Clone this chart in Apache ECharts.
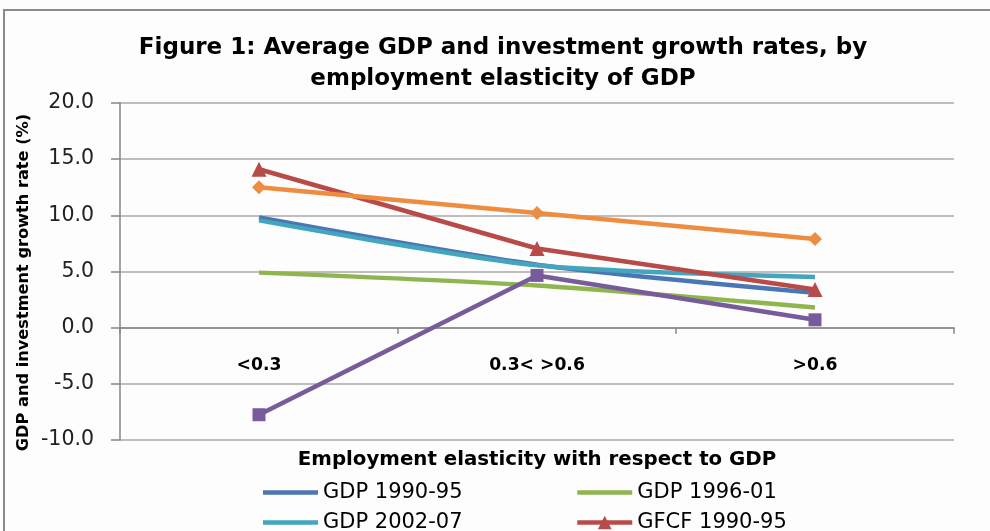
<!DOCTYPE html>
<html>
<head>
<meta charset="utf-8">
<script src="https://cdn.jsdelivr.net/npm/echarts@6/dist/echarts.min.js"></script>
<style>
html,body{margin:0;padding:0;background:#fdfdfd;}
#chart{width:990px;height:531px;}
</style>
</head>
<body>
<div id="chart"></div>
<script>
const categories = ['<0.3', '0.3< >0.6', '>0.6'];
const gdp9095 = [9.8, 5.6, 3.1];
const gdp9601 = [4.9, 3.75, 1.8];
const gdp0207 = [9.55, 5.55, 4.5];
const gfcf9095 = [14.1, 7.05, 3.4];
const gfcf9601 = [12.5, 10.2, 7.9];
const gfcf0207 = [-7.75, 4.65, 0.7];
const yTicks = [-10, -5, 0, 5, 10, 15, 20];

const FONT = 'DejaVu Sans';
const LINE_ICON = 'path://M0,0L60,0L60,5L0,5Z';
const GRID = {left: 120, right: 36, top: 103, bottom: 91};
const chart = echarts.init(document.getElementById('chart'), null, {renderer: 'canvas'});

// distance from the bottom of the plot to the zero line (x axis crosses at 0)
const plotH = 531 - GRID.top - GRID.bottom;
const yMin = yTicks[0], yMax = yTicks[yTicks.length - 1];
const zeroOffset = plotH * (0 - yMin) / (yMax - yMin);

function lineSeries(name, data, color, symbol, symbolSize, smooth) {
  return {
    name: name,
    type: 'line',
    data: data,
    smooth: smooth,
    symbol: symbol,
    symbolSize: symbolSize,
    showSymbol: symbol !== 'none',
    lineStyle: {color: color, width: 4.5},
    itemStyle: {color: color},
    emphasis: {disabled: true},
    z: 3
  };
}

const legendCommon = {
  orient: 'vertical',
  top: 482,
  height: 120,
  padding: 0,
  itemWidth: 55,
  itemHeight: 17,
  itemGap: 9,
  selectedMode: false,
  lineStyle: {width: 'inherit'},
  textStyle: {fontFamily: FONT, fontSize: 21, lineHeight: 17, color: '#000'}
};

chart.setOption({
  backgroundColor: '#fdfdfd',
  animation: false,
  textStyle: {fontFamily: FONT},
  graphic: [{
    type: 'rect',
    shape: {x: 4, y: 10, width: 1100, height: 700},
    style: {fill: 'none', stroke: '#8a8a8a', lineWidth: 2},
    silent: true
  }],
  title: {
    text: 'Figure 1: Average GDP and investment growth rates, by\nemployment elasticity of GDP',
    left: 503,
    textAlign: 'center',
    top: 33,
    padding: 0,
    textStyle: {fontFamily: FONT, fontWeight: 'bold', fontSize: 23, lineHeight: 31, color: '#000'}
  },
  legend: [
    Object.assign({}, legendCommon, {
      left: 263,
      data: [{name: 'GDP 1990-95', icon: LINE_ICON}, {name: 'GDP 2002-07', icon: LINE_ICON}]
    }),
    Object.assign({}, legendCommon, {
      left: 575,
      data: [{name: 'GDP 1996-01', icon: LINE_ICON}, {name: 'GFCF 1990-95'}]
    })
  ],
  grid: Object.assign({containLabel: false, outerBoundsMode: 'none'}, GRID),
  xAxis: {
    type: 'category',
    data: categories,
    boundaryGap: true,
    position: 'bottom',
    offset: -zeroOffset,
    axisLine: {onZero: false, lineStyle: {color: '#868686', width: 1.5}},
    axisTick: {show: true, length: 6, lineStyle: {color: '#868686', width: 1.5}},
    axisLabel: {margin: 29, fontFamily: FONT, fontWeight: 'bold', fontSize: 17.2, color: '#000'},
    name: 'Employment elasticity with respect to GDP',
    nameLocation: 'middle',
    nameGap: 122,
    nameMoveOverlap: false,
    nameTextStyle: {fontFamily: FONT, fontWeight: 'bold', fontSize: 19.8, color: '#000'}
  },
  yAxis: {
    type: 'value',
    min: yMin,
    max: yMax,
    interval: 5,
    axisLine: {show: true, lineStyle: {color: '#868686', width: 1.5}},
    axisTick: {show: true, length: 9, lineStyle: {color: '#868686', width: 1.5}},
    splitLine: {show: true, lineStyle: {color: '#a8a8a8', width: 1.5}},
    axisLabel: {
      margin: 26,
      fontFamily: FONT,
      fontSize: 20.5,
      color: '#222',
      formatter: function (v) { return v.toFixed(1); }
    },
    name: 'GDP and investment growth rate (%)',
    nameLocation: 'middle',
    nameGap: 88,
    nameRotate: 90,
    nameMoveOverlap: false,
    nameTextStyle: {fontFamily: FONT, fontWeight: 'bold', fontSize: 16.2, color: '#000', padding: [0, 22, 0, 0]}
  },
  series: [
    lineSeries('GDP 1990-95', gdp9095, '#4a76b4', 'none', 0, 0.25),
    lineSeries('GDP 1996-01', gdp9601, '#8fb54f', 'none', 0, 0.25),
    lineSeries('GDP 2002-07', gdp0207, '#44a5be', 'none', 0, 0.25),
    lineSeries('GFCF 1990-95', gfcf9095, '#b84a47', 'triangle', 15, false),
    lineSeries('GFCF 1996-01', gfcf9601, '#ee8c3f', 'diamond', 14, false),
    lineSeries('GFCF 2002-07', gfcf0207, '#775b9b', 'rect', 13, false)
  ]
});
</script>
</body>
</html>
